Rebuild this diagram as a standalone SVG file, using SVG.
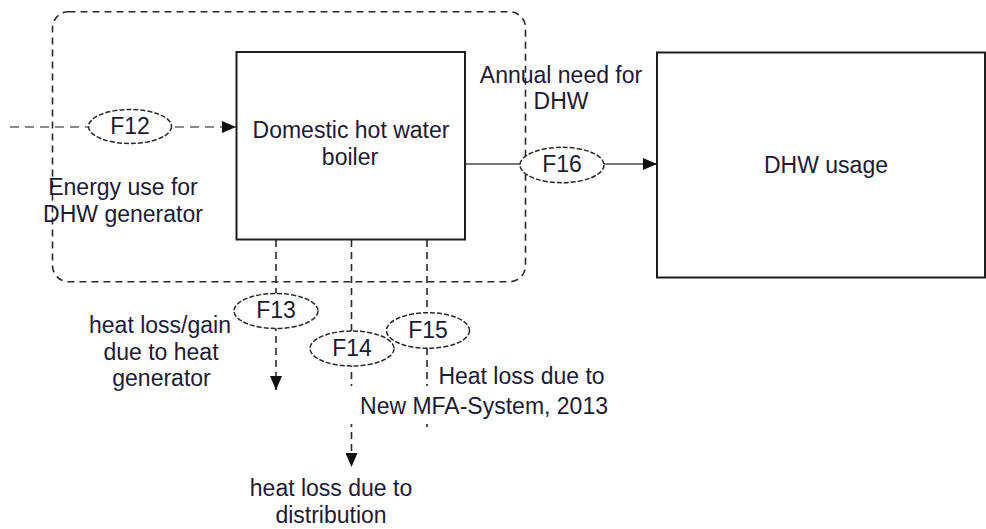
<svg xmlns="http://www.w3.org/2000/svg" width="986" height="529" viewBox="0 0 986 529">
<style>
text{font-family:"Liberation Sans",Arial,sans-serif;font-size:23px;fill:#1c1a38;text-anchor:middle}
.box{fill:#fff;stroke:#1e1e1e;stroke-width:2}
.flow{fill:#fff;stroke:#2a2a2a;stroke-width:1.5;stroke-dasharray:5 2}
.vd{fill:none;stroke:#2a2a2a;stroke-width:1.6;stroke-dasharray:7 5}
</style>
<defs>
<marker id="ah" markerUnits="userSpaceOnUse" markerWidth="14" markerHeight="12" refX="14" refY="6" orient="auto">
<path d="M0,0 L14,6 L0,12 z" fill="#111"/>
</marker>
</defs>
<rect width="986" height="529" fill="#fff"/>
<g id="boundary">
<rect x="52.5" y="11.7" width="473" height="270" rx="16" fill="none" stroke="#2a2a2a" stroke-width="1.6" stroke-dasharray="7 5"/>
</g>
<g id="connectors">
<line x1="10" y1="127" x2="236" y2="127" stroke="#8a8a8a" stroke-width="2.2" stroke-dasharray="9 6" marker-end="url(#ah)"/>
<line x1="465" y1="164" x2="657" y2="164" stroke="#4a4a4a" stroke-width="1.6" marker-end="url(#ah)"/>
<line class="vd" x1="276" y1="240" x2="276" y2="390" marker-end="url(#ah)"/>
<line class="vd" x1="351.5" y1="240" x2="351.5" y2="467" marker-end="url(#ah)"/>
<line class="vd" x1="427" y1="240" x2="427" y2="429"/>
</g>
<g id="boiler">
<rect class="box" x="236.5" y="52" width="228.5" height="187.5"/>
<text x="351" y="138">Domestic hot water</text>
<text x="350" y="165">boiler</text>
</g>
<g id="usage">
<rect class="box" x="657" y="52.5" width="328" height="225"/>
<text x="826" y="173">DHW usage</text>
</g>
<g id="F12">
<ellipse class="flow" cx="130" cy="126.5" rx="41.5" ry="17"/>
<text x="130" y="134">F12</text>
</g>
<g id="F16">
<ellipse class="flow" cx="562" cy="165" rx="42" ry="17.7"/>
<text x="562" y="172">F16</text>
</g>
<g id="F13">
<ellipse class="flow" cx="276" cy="311" rx="42" ry="17.5"/>
<text x="276" y="318">F13</text>
</g>
<g id="F15">
<ellipse class="flow" cx="428" cy="330.5" rx="41.5" ry="17.8"/>
<text x="428" y="338">F15</text>
</g>
<g id="F14">
<ellipse class="flow" cx="352" cy="348.5" rx="42" ry="17.5"/>
<text x="352" y="356">F14</text>
</g>
<g id="labels">
<text x="123" y="194.5">Energy use for</text>
<text x="123" y="221.5">DHW generator</text>
<text x="561" y="83">Annual need for</text>
<text x="561" y="108.5">DHW</text>
<text x="160" y="333">heat loss/gain</text>
<text x="161" y="359.5">due to heat</text>
<text x="161.5" y="385.5">generator</text>
<rect x="346" y="386" width="272" height="38" fill="#fff"/>
<text x="521.5" y="383.5">Heat loss due to</text>
<text x="484" y="413.5">New MFA-System, 2013</text>
<text x="331" y="496">heat loss due to</text>
<text x="331" y="523">distribution</text>
</g>
</svg>
